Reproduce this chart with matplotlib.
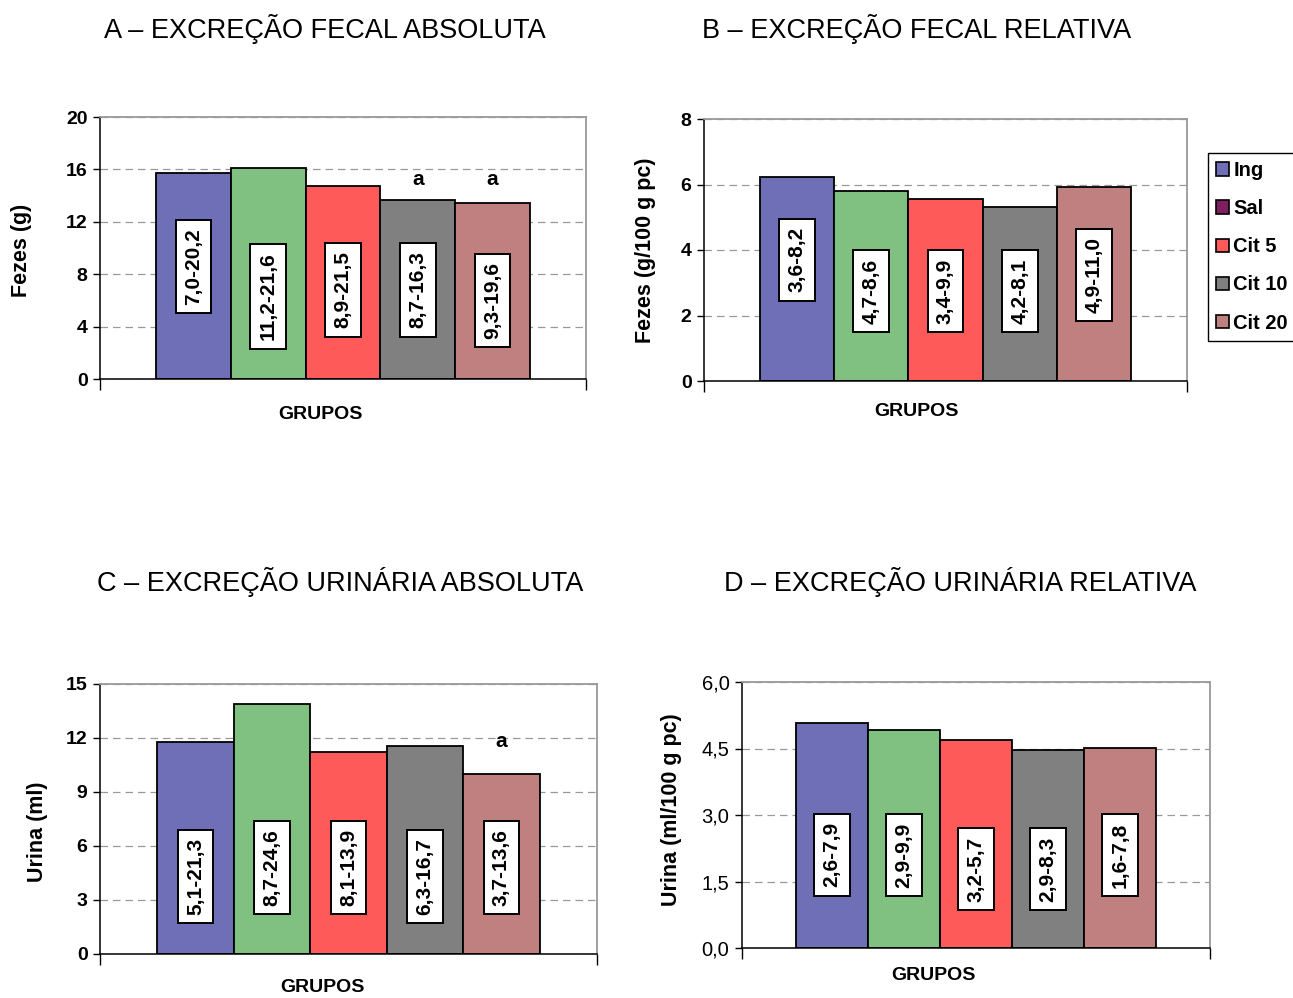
import numpy as np
import matplotlib.pyplot as plt
from matplotlib.patches import Patch

plt.rcParams['font.family'] = ['Liberation Sans', 'DejaVu Sans']

grupos = ['Ing', 'Sal', 'Cit 5', 'Cit 10', 'Cit 20']

# A - excrecao fecal absoluta (g)
fezes_abs = [15.7, 16.1, 14.7, 13.7, 13.4]
fezes_abs_int = ['7,0-20,2', '11,2-21,6', '8,9-21,5', '8,7-16,3', '9,3-19,6']
fezes_abs_sig = ['', '', '', 'a', 'a']

# B - excrecao fecal relativa (g/100 g pc)
fezes_rel = [6.23, 5.8, 5.56, 5.31, 5.92]
fezes_rel_int = ['3,6-8,2', '4,7-8,6', '3,4-9,9', '4,2-8,1', '4,9-11,0']
fezes_rel_sig = ['', '', '', '', '']

# C - excrecao urinaria absoluta (ml)
urina_abs = [11.78, 13.9, 11.2, 11.56, 10.0]
urina_abs_int = ['5,1-21,3', '8,7-24,6', '8,1-13,9', '6,3-16,7', '3,7-13,6']
urina_abs_sig = ['', '', '', '', 'a']

# D - excrecao urinaria relativa (ml/100 g pc)
urina_rel = [5.08, 4.92, 4.69, 4.47, 4.51]
urina_rel_int = ['2,6-7,9', '2,9-9,9', '3,2-5,7', '2,9-8,3', '1,6-7,8']
urina_rel_sig = ['', '', '', '', '']

# estilo
cores_barras = ['#6F6FB8', '#80C080', '#FF5A5A', '#808080', '#C08080']
cores_legenda = ['#6F6FB8', '#7F1F5F', '#FF5A5A', '#808080', '#C08080']
XMIN, XMAX = -1.25, 5.25


def painel(rect, valores, intervalos, sig, pos_int, pos_sig, ymax, passo,
           titulo, tit_xy, ylabel, ylab_xy, grupos_xy, fmt, tick_bold=True):
    ax = fig.add_axes(rect)
    x = np.arange(len(valores))
    ax.bar(x, valores, width=1.0, color=cores_barras, edgecolor='black',
           linewidth=1.3, zorder=2)
    for i in range(len(valores)):
        ax.text(x[i], pos_int[i], intervalos[i], rotation=90, ha='center',
                va='center', fontsize=15, fontweight='bold', zorder=4,
                bbox=dict(boxstyle='square,pad=0.4', fc='white', ec='black', lw=1.4))
        if sig[i]:
            ax.text(x[i], pos_sig, sig[i], ha='center', va='center',
                    fontsize=15, fontweight='bold', zorder=4)
    ax.set_xlim(XMIN, XMAX)
    ax.set_ylim(0, ymax)
    ticks = np.arange(0, ymax + passo / 2, passo)
    ax.set_yticks(ticks)
    ax.set_yticklabels([fmt(t) for t in ticks], fontsize=14 if tick_bold else 14.5,
                       fontweight='bold' if tick_bold else 'normal')
    ax.set_xticks([XMIN, XMAX])
    ax.set_xticklabels(['', ''])
    ax.tick_params(axis='x', direction='out', length=8, width=1)
    ax.tick_params(axis='y', direction='out', length=5, width=1, pad=4)
    ax.yaxis.grid(True, linestyle=(0, (6, 4)), color='#999999', linewidth=0.9)
    ax.set_axisbelow(True)
    for s in ['top', 'right']:
        ax.spines[s].set_color('#999999')
        ax.spines[s].set_linewidth(1.3)
    for s in ['left', 'bottom']:
        ax.spines[s].set_color('black')
        ax.spines[s].set_linewidth(1.1)
    fig.text(tit_xy[0] / W, 1 - tit_xy[1] / H, titulo, ha='center',
             va='center', fontsize=19.5)
    fig.text(ylab_xy[0] / W, 1 - ylab_xy[1] / H, ylabel, ha='center',
             va='center', rotation=90, fontsize=15.5, fontweight='bold')
    fig.text(grupos_xy[0] / W, 1 - grupos_xy[1] / H, 'GRUPOS', ha='center',
             va='center', fontsize=14, fontweight='bold')
    return ax


W, H = 1293, 998
fig = plt.figure(figsize=(W / 100, H / 100), dpi=100)

inteiro = lambda t: '%d' % t
decimal = lambda t: ('%.1f' % t).replace('.', ',')

painel([100 / W, 1 - 379 / H, 486 / W, 262 / H], fezes_abs, fezes_abs_int,
       fezes_abs_sig, [8.6, 6.3, 6.8, 6.8, 6.0], 15.2, 20, 4,
       'A – EXCREÇÃO FECAL ABSOLUTA', (325, 29), 'Fezes (g)', (22, 250),
       (320, 414), inteiro)

painel([704 / W, 1 - 381 / H, 483 / W, 262 / H], fezes_rel, fezes_rel_int,
       fezes_rel_sig, [3.7, 2.75, 2.75, 2.75, 3.24], 7, 8, 2,
       'B – EXCREÇÃO FECAL RELATIVA', (917, 29), 'Fezes (g/100 g pc)',
       (646, 250), (916, 412), inteiro)

painel([100 / W, 1 - 954 / H, 497 / W, 270 / H], urina_abs, urina_abs_int,
       urina_abs_sig, [4.3, 4.8, 4.8, 4.3, 4.8], 11.8, 15, 3,
       'C – EXCREÇÃO URINÁRIA ABSOLUTA', (340, 582), 'Urina (ml)', (37, 832),
       (322, 988), inteiro)

painel([742 / W, 1 - 948 / H, 468 / W, 266 / H], urina_rel, urina_rel_int,
       urina_rel_sig, [2.1, 2.1, 1.78, 1.78, 2.1], 5.5, 6.0, 1.5,
       'D – EXCREÇÃO URINÁRIA RELATIVA', (960, 582), 'Urina (ml/100 g pc)',
       (671, 810), (933, 975), decimal, tick_bold=False)

handles = [Patch(facecolor=c, edgecolor='black', linewidth=1.2) for c in cores_legenda]
leg = fig.legend(handles, grupos, loc='upper left',
                 bbox_to_anchor=(1208 / W, 1 - 153 / H),
                 bbox_transform=fig.transFigure, borderaxespad=0,
                 prop={'weight': 'bold', 'size': 14.5}, handlelength=0.65,
                 handleheight=0.65, handletextpad=0.2, labelspacing=0.95,
                 borderpad=0.4, fancybox=False, framealpha=1)
leg.get_frame().set_edgecolor('black')
leg.get_frame().set_linewidth(1.0)

fig.savefig('out.png', dpi=100)
